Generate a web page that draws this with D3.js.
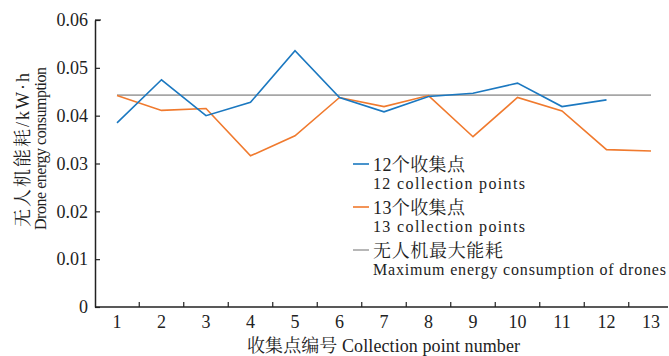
<!DOCTYPE html>
<html><head><meta charset="utf-8">
<script src="https://cdn.jsdelivr.net/npm/d3@7/dist/d3.min.js"></script>
<style>body{margin:0;background:#fff}svg{display:block}</style>
</head><body><svg id="c" width="669" height="356"></svg>
<script>
const categories = [1,2,3,4,5,6,7,8,9,10,11,12,13];
const series12 = [0.0385,0.0475,0.0400,0.0428,0.0536,0.0438,0.0408,0.0440,0.0447,0.0468,0.0419,0.0433];
const series13 = [0.0442,0.0411,0.0415,0.0316,0.0358,0.0438,0.0419,0.0442,0.0356,0.0438,0.0410,0.0329,0.0326];
const maxEnergy = 0.0443;
const yTicks = [0,0.01,0.02,0.03,0.04,0.05,0.06];
const yTickLabels = ["0","0.01","0.02","0.03","0.04","0.05","0.06"];
const legendItems = [
  {zh:"12个收集点", en:"12 collection points", color:"#1b78c0"},
  {zh:"13个收集点", en:"13 collection points", color:"#f07a2e"},
  {zh:"无人机最大能耗", en:"Maximum energy consumption of drones", color:"#a6a6a6"}
];

const svg = d3.select("#c");
const serif = "Liberation Serif, Times New Roman, Tinos, Noto Serif, DejaVu Serif, serif";
const cjk = "Liberation Serif, Times New Roman, Tinos, Noto Serif CJK SC, Noto Sans CJK SC, serif";
const x0 = 95, xEnd = 668, yTop = 20, yBot = 307;
const x = d3.scaleLinear().domain([1,13]).range([117,651]);
const y = d3.scaleLinear().domain([0,0.06]).range([yBot,yTop]);

// y axis
const ya = svg.append("g").attr("transform",`translate(${x0},0)`)
  .call(d3.axisLeft(y).tickValues(yTicks).tickFormat((d,i)=>yTickLabels[i]).tickSize(-5).tickSizeOuter(0).tickPadding(7));
ya.attr("font-family",null);
ya.select(".domain").attr("stroke","#222").attr("stroke-width",1.5);
ya.selectAll(".tick line").attr("stroke","#222").attr("stroke-width",1.2);
ya.selectAll("text").style("font-family",serif).attr("font-size",18).attr("fill","#222");
svg.append("line").attr("x1",x0).attr("x2",x0+6).attr("y1",yTop).attr("y2",yTop).attr("stroke","#222").attr("stroke-width",1.2);

// x axis: ticks between categories
const xa = svg.append("g").attr("transform",`translate(0,${yBot})`);
xa.append("line").attr("x1",x0).attr("x2",xEnd).attr("stroke","#222").attr("stroke-width",1.5);
const mids = categories.slice(0,-1).map(c=>c+0.5);
xa.selectAll("line.t").data(mids).join("line").attr("class","t")
  .attr("x1",d=>x(d)).attr("x2",d=>x(d)).attr("y1",0).attr("y2",-5).attr("stroke","#222").attr("stroke-width",1.2);
xa.selectAll("text").data(categories).join("text")
  .attr("x",d=>x(d)).attr("y",21).attr("text-anchor","middle")
  .style("font-family",serif).attr("font-size",18).attr("fill","#222").text(d=>d);

// max line
svg.append("line").attr("x1",x(1)).attr("x2",x(13)).attr("y1",y(maxEnergy)).attr("y2",y(maxEnergy))
  .attr("stroke","#a6a6a6").attr("stroke-width",1.8);

const line = d3.line().x((d,i)=>x(categories[i])).y(d=>y(d));
svg.append("path").datum(series13).attr("d",line).attr("fill","none").attr("stroke","#f07a2e").attr("stroke-width",1.6);
svg.append("path").datum(series12).attr("d",line).attr("fill","none").attr("stroke","#1b78c0").attr("stroke-width",1.6);

// legend
const enWidths = [152, 152, 293];
const zhWidths = [92, 92, 130];
const lg = svg.append("g");
legendItems.forEach((it,i)=>{
  const cy = 164 + i*43;
  lg.append("line").attr("x1",353).attr("x2",369).attr("y1",cy).attr("y2",cy).attr("stroke",it.color).attr("stroke-width",1.6);
  lg.append("text").attr("x",373).attr("y",cy+7).style("font-family",cjk).attr("font-size",18).attr("fill","#222")
    .attr("textLength",zhWidths[i]).attr("lengthAdjust","spacing").text(it.zh);
  lg.append("text").attr("x",373).attr("y",cy+25).style("font-family",serif).attr("font-size",16).attr("fill","#222")
    .attr("textLength",enWidths[i]).attr("lengthAdjust","spacing").text(it.en);
});

// axis titles
svg.append("text").attr("x",247).attr("y",352)
  .style("font-family",cjk).attr("font-size",18).attr("fill","#222")
  .attr("textLength",273).attr("lengthAdjust","spacing").text("收集点编号 Collection point number");
const yt = svg.append("g").attr("transform","rotate(-90)");
yt.append("text").attr("x",-227).attr("y",29)
  .style("font-family",cjk).attr("font-size",18).attr("fill","#222")
  .attr("textLength",154).attr("lengthAdjust","spacing").text("无人机能耗/kW·h");
yt.append("text").attr("x",-230).attr("y",46)
  .style("font-family",serif).attr("font-size",16).attr("fill","#222")
  .attr("textLength",163).attr("lengthAdjust","spacing").text("Drone energy consumption");
</script></body></html>
